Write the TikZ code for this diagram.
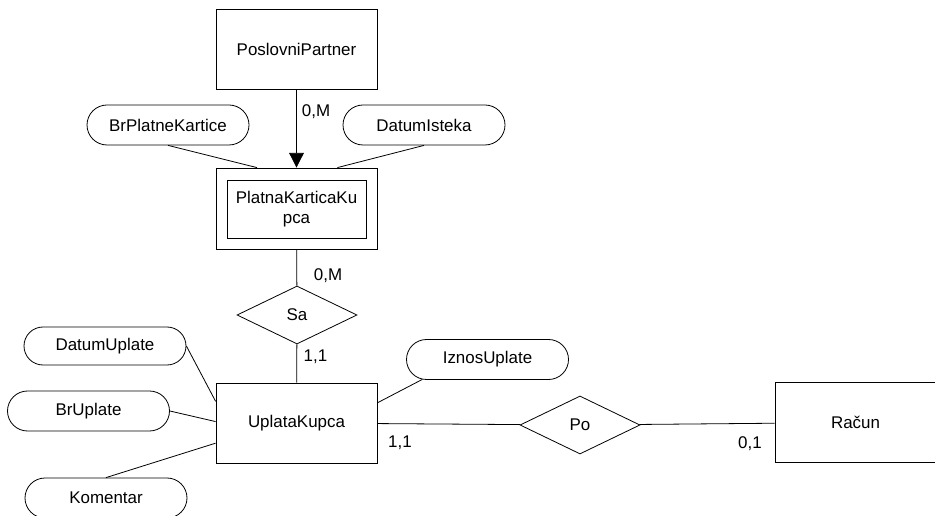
\documentclass[tikz,border=0pt]{standalone}
\usepackage{fontspec}
\setmainfont{Liberation Sans}
\usetikzlibrary{arrows.meta,shapes.geometric,shapes.misc}

\begin{document}
\begin{tikzpicture}[x=0.75pt,y=-0.75pt,
		every node/.style={font=\fontsize{12.7}{15.5}\selectfont},
		entitet/.style={draw,line width=.6pt,minimum width=120.75pt,minimum height=60pt,inner sep=0pt},
		atribut/.style={draw,rounded rectangle,line width=.6pt,minimum width=121.5pt,minimum height=30pt,inner sep=0pt},
		veza/.style={draw,diamond,line width=.6pt,minimum width=90pt,minimum height=43.5pt,inner sep=0pt},
		kard/.style={inner sep=0pt},
		>={Triangle[width=11pt,length=11pt]}, line width=.6pt]
	\useasboundingbox (0,0) rectangle (935,516);
	\clip (0,0) rectangle (935,516);
	% entiteti
	\node[entitet] (partner) at (296.5,49) {PoslovniPartner};
	\node[entitet,minimum height=60.75pt] (kartica) at (296.5,208.5) {};
	\node[entitet,minimum width=104.25pt,minimum height=43.5pt,align=center] (karticain) at (296.5,209) {PlatnaKarticaKu\\pca};
	\node[entitet] (uplata) at (296.5,423) {UplataKupca};
	\node[entitet] (racun) at (855.5,422.5) {Račun};
	% veze
	\node[veza] (sa) at (297,315) {Sa};
	\node[veza] (po) at (580,425) {Po};
	% atributi
	\node[atribut] (brplatne) at (168,125) {BrPlatneKartice};
	\node[atribut] (datumisteka) at (424,125) {DatumIsteka};
	\node[atribut,minimum height=28.5pt] (datumuplate) at (105,346) {DatumUplate};
	\node[atribut] (bruplate) at (88.5,411) {BrUplate};
	\node[atribut] (komentar) at (106,498) {Komentar};
	\node[atribut] (iznos) at (487.5,359.5) {IznosUplate};
	% linije
	\draw[->] (partner) -- (kartica);
	\draw (brplatne.south) -- (kartica.134);
	\draw (datumisteka.south) -- (kartica.45);
	\draw (kartica) -- (sa);
	\draw (sa) -- (uplata);
	\draw (datumuplate.east) -- (uplata.165);
	\draw (bruplate.east) -- (uplata.179);
	\draw (komentar.north) -- (uplata.194);
	\draw (iznos.197) -- (uplata.14);
	\draw (uplata) -- (po);
	\draw (po) -- (racun);
	% kardinalnosti
	\node[kard] (k1) at (316,112) {0,M};
	\node[kard] (k2) at (328,276) {0,M};
	\node[kard] (k3) at (315.5,357) {1,1};
	\node[kard] (k4) at (400,443) {1,1};
	\node[kard] (k5) at (750,444) {0,1};
\end{tikzpicture}
\end{document}
